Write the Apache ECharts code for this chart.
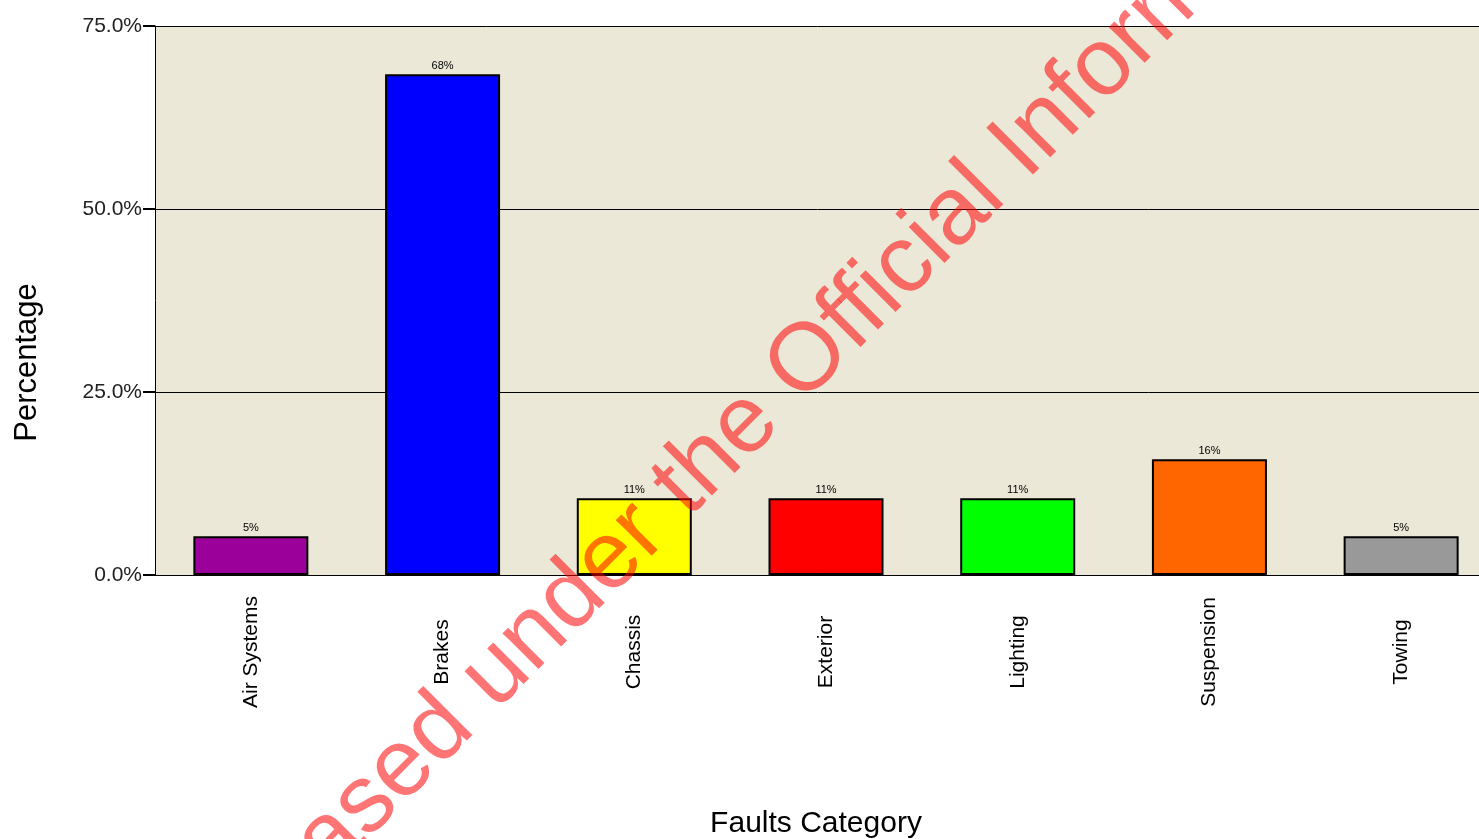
<!DOCTYPE html>
<html>
<head>
<meta charset="utf-8" />
<title>Faults Category</title>
<script src="https://cdn.jsdelivr.net/npm/echarts@6/dist/echarts.min.js"></script>
<style>
  html, body { margin: 0; padding: 0; background: #fff; }
  #chart { width: 1479px; height: 839px; }
</style>
</head>
<body>
<div id="chart"></div>
<script>
const categories = ["Air Systems", "Brakes", "Chassis", "Exterior", "Lighting", "Suspension", "Towing"];
const percentages = [5.3, 68.4, 10.5, 10.5, 10.5, 15.8, 5.3];
const barColors = ["#9b009b", "#0000ff", "#ffff00", "#ff0000", "#00ff00", "#ff6600", "#999999"];
const yTicks = [0, 25, 50, 75];
const watermark = "Released under the Official Information Act";

const font = "Arial, 'Liberation Sans', sans-serif";
const myChart = echarts.init(document.getElementById("chart"));

const option = {
  backgroundColor: "#ffffff",
  animation: false,
  grid: {
    left: 155,
    top: 26,
    width: 1342,
    height: 549,
    // plot runs past the right edge, like the original
    outerBoundsMode: "none",
    show: true,
    backgroundColor: "#ece8d8",
    borderWidth: 0,
  },
  xAxis: {
    type: "category",
    data: categories,
    name: "Faults Category",
    nameLocation: "middle",
    nameGap: 234,
    nameTextStyle: { fontFamily: font, fontSize: 30, color: "#000", padding: [0, 20, 0, 0] },
    axisLine: { lineStyle: { color: "#000", width: 1 } },
    axisTick: { show: false },
    axisLabel: {
      rotate: 90,
      align: "center",
      margin: 77,
      fontFamily: font,
      fontSize: 21,
      color: "#000",
    },
  },
  yAxis: {
    type: "value",
    min: yTicks[0],
    max: yTicks[yTicks.length - 1],
    interval: 25,
    name: "Percentage",
    nameLocation: "middle",
    nameGap: 112,
    nameTextStyle: { fontFamily: font, fontSize: 31, color: "#000", padding: [0, 124, 0, 0] },
    axisLine: { show: true, lineStyle: { color: "#000", width: 1 } },
    axisTick: { show: true, length: 12, lineStyle: { color: "#000", width: 2 } },
    axisLabel: {
      margin: 13,
      fontFamily: font,
      fontSize: 21,
      color: "#222",
      formatter: (v) => v.toFixed(1) + "%",
    },
    splitLine: { show: true, lineStyle: { color: "#000", width: 1 } },
  },
  series: [
    {
      type: "bar",
      data: percentages.map((v, i) => ({
        value: v,
        itemStyle: { color: barColors[i] },
      })),
      barWidth: 115,
      itemStyle: { borderColor: "#000", borderWidth: 2 },
      label: {
        show: true,
        position: "top",
        distance: 3,
        fontFamily: font,
        fontSize: 11,
        color: "#000",
        formatter: (p) => Math.round(p.value) + "%",
      },
    },
  ],
  graphic: [
    {
      type: "text",
      x: 818,
      y: 352,
      rotation: Math.PI / 4,
      z: 100,
      silent: true,
      style: {
        text: watermark,
        fontFamily: font,
        fontSize: 96,
        fill: "rgba(255, 0, 0, 0.54)",
        align: "center",
        verticalAlign: "middle",
      },
    },
  ],
};
myChart.setOption(option);
</script>
</body>
</html>
